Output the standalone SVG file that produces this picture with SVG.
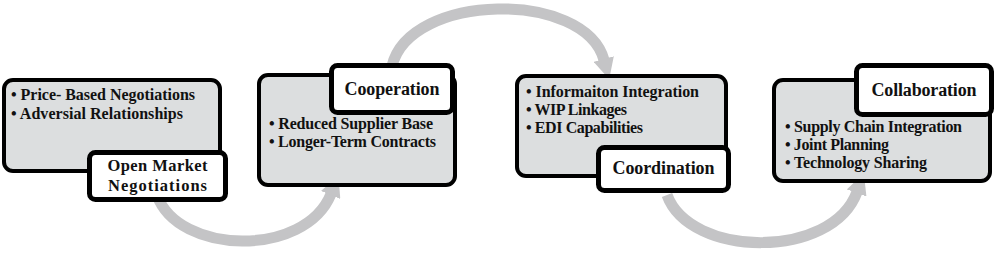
<svg xmlns="http://www.w3.org/2000/svg" width="999" height="258" viewBox="0 0 999 258">
<style>
.box{fill:#dcdedf;stroke:#000;stroke-width:4}
.lab{fill:#fff;stroke:#000;stroke-width:5}
.t{font-family:"Liberation Serif","Times New Roman",serif;font-weight:bold;font-size:16px;fill:#111}
.h{font-family:"Liberation Serif","Times New Roman",serif;font-weight:bold;font-size:18px;fill:#111;text-anchor:middle}
.h2{font-size:16.5px}
.arr{fill:none;stroke:#c4c4c6;stroke-width:11}
</style>
<defs>
<marker id="ah" viewBox="0 0 10 10" refX="0.5" refY="5" markerWidth="1.9" markerHeight="1.9" orient="auto">
<path d="M0,0 L10,5 L0,10 z" fill="#c4c4c6"/>
</marker>
</defs>
<g id="connectors">
<path class="arr" d="M157 195 C178 255 305 258 331 194" marker-end="url(#ah)"/>
<path class="arr" d="M392 66 C410 -8 585 -10 604 60" marker-end="url(#ah)"/>
<path class="arr" d="M667 195 C690 258 832 260 857 192" marker-end="url(#ah)"/>
</g>
<g id="node-open-market">
<rect class="box" x="4" y="80" width="216" height="91" rx="9"/>
<text class="t" x="11" y="100" textLength="184" lengthAdjust="spacing">• Price- Based Negotiations</text>
<text class="t" x="11" y="119" textLength="172" lengthAdjust="spacing">• Adversial Relationships</text>
<rect class="lab" x="89.5" y="152.5" width="136" height="47" rx="6"/>
<text class="h h2" x="157.5" y="170.5" textLength="100" lengthAdjust="spacing">Open Market</text>
<text class="h h2" x="157.5" y="190.5" textLength="99" lengthAdjust="spacing">Negotiations</text>
</g>
<g id="node-cooperation">
<rect class="box" x="259" y="75" width="196" height="110" rx="9"/>
<rect class="lab" x="331.5" y="65.5" width="121" height="47" rx="6"/>
<text class="h" x="392" y="95" textLength="95" lengthAdjust="spacing">Cooperation</text>
<text class="t" x="269" y="129" textLength="164" lengthAdjust="spacing">• Reduced Supplier Base</text>
<text class="t" x="269" y="147" textLength="167" lengthAdjust="spacing">• Longer-Term Contracts</text>
</g>
<g id="node-coordination">
<rect class="box" x="517" y="76" width="209" height="100" rx="9"/>
<text class="t" x="526" y="97" textLength="173" lengthAdjust="spacing">• Informaiton Integration</text>
<text class="t" x="526" y="115" textLength="101" lengthAdjust="spacing">• WIP Linkages</text>
<text class="t" x="526" y="133" textLength="117" lengthAdjust="spacing">• EDI Capabilities</text>
<rect class="lab" x="598.5" y="147.5" width="130" height="43" rx="6"/>
<text class="h" x="663.5" y="174" textLength="102" lengthAdjust="spacing">Coordination</text>
</g>
<g id="node-collaboration">
<rect class="box" x="774" y="80" width="216" height="101" rx="9"/>
<rect class="lab" x="856.5" y="65.5" width="135" height="49" rx="6"/>
<text class="h" x="924" y="96" textLength="105" lengthAdjust="spacing">Collaboration</text>
<text class="t" x="785" y="132" textLength="177" lengthAdjust="spacing">• Supply Chain Integration</text>
<text class="t" x="785" y="150" textLength="104" lengthAdjust="spacing">• Joint Planning</text>
<text class="t" x="785" y="168" textLength="142" lengthAdjust="spacing">• Technology Sharing</text>
</g>
</svg>
